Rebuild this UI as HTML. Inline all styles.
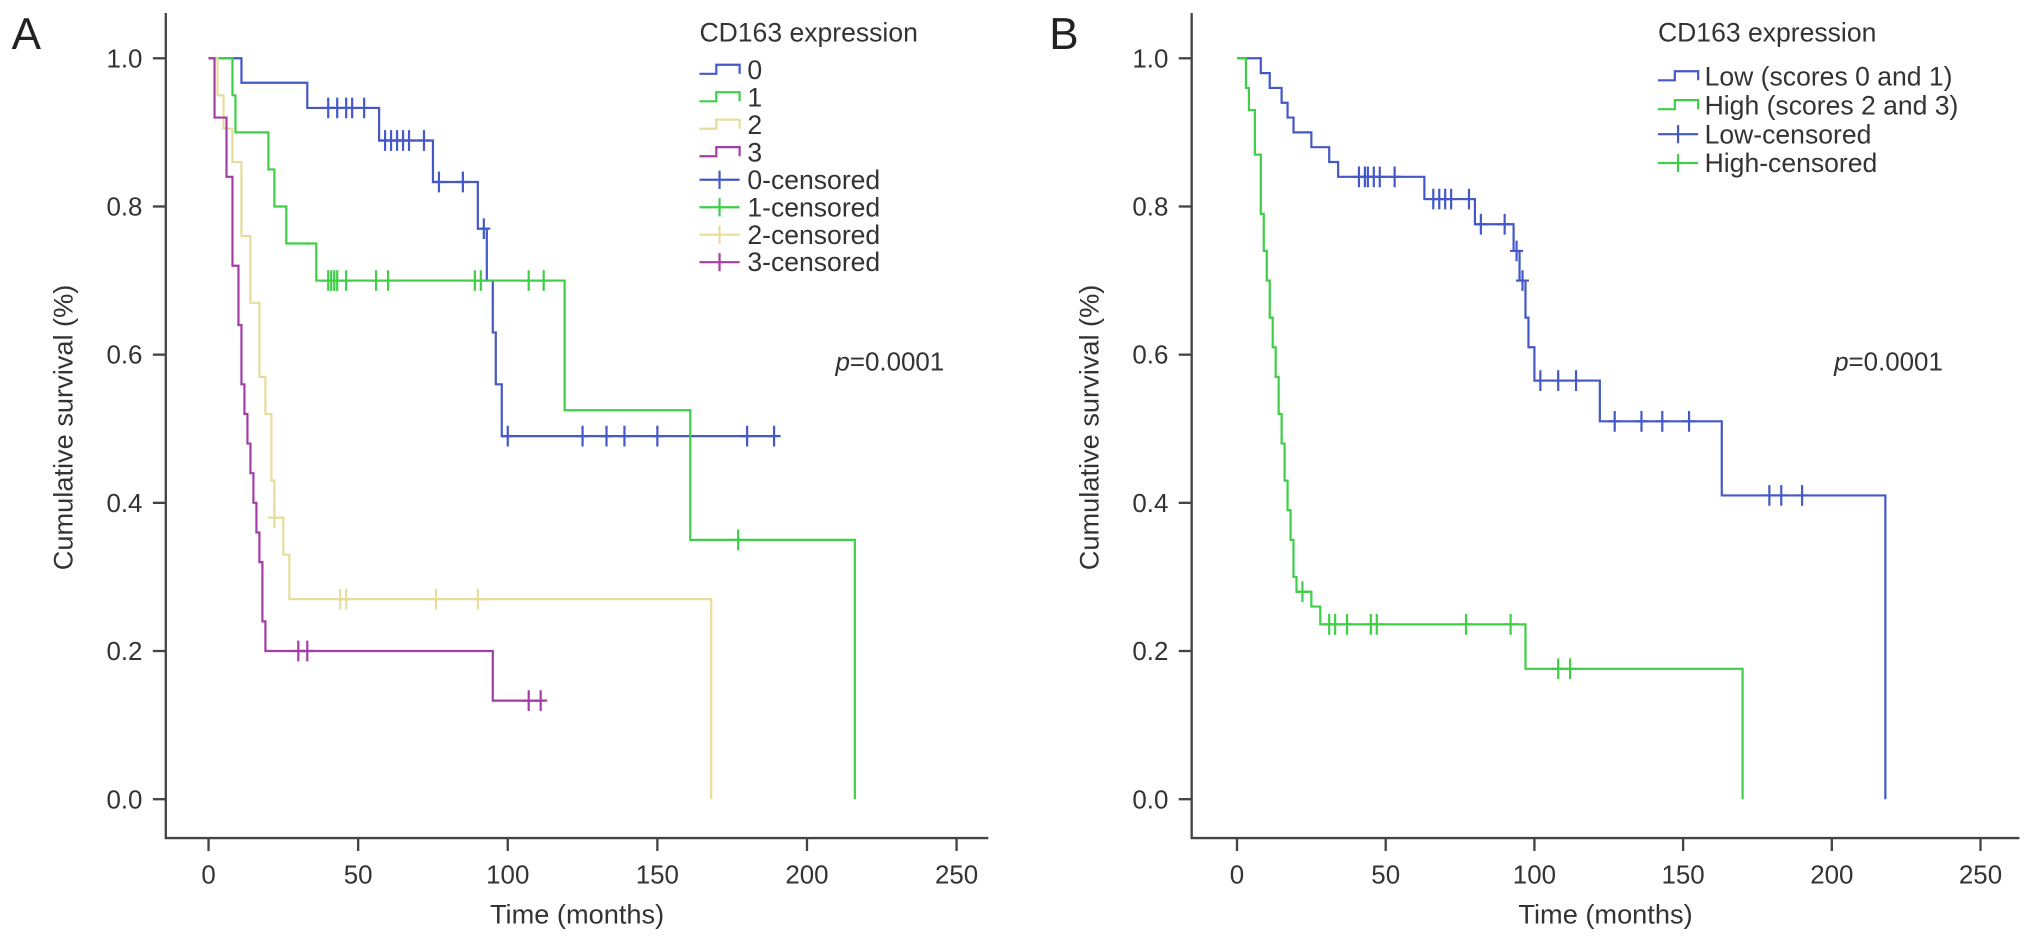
<!DOCTYPE html>
<html><head><meta charset="utf-8"><style>
html,body{margin:0;padding:0;background:#fff;}
svg{display:block;font-family:"Liberation Sans",Arial,sans-serif;}
</style></head><body>
<svg id="chart" width="2032" height="947" viewBox="0 0 2032 947">
<g id="root" transform="scale(1.2953)">
<text x="9" y="38" font-size="34" fill="#222">A</text>
<text x="810" y="38" font-size="34" fill="#222">B</text>
</g>
</svg>
<script>
// ---- Panel A data ----
const aNames = ["0","1","2","3"];
const aTimes0 = [0,11,33,57,75,90,93,95,96,98,189];
const aSurv0  = [1.0,0.967,0.933,0.889,0.833,0.77,0.70,0.63,0.56,0.49,0.49];
const aCens0T = [40,43,46,48,52,59,61,63,65,67,72,77,85,92,100,125,133,139,150,180,189];
const aTimes1 = [0,8,9,20,22,26,36,119,161,216,216];
const aSurv1  = [1.0,0.95,0.90,0.85,0.80,0.75,0.70,0.525,0.35,0.35,0.0];
const aCens1T = [40,41,42,43,46,56,60,89,91,107,112,177];
const aTimes2 = [0,3,5,8,11,14,17,19,21,22,25,27,168,168];
const aSurv2  = [1.0,0.95,0.905,0.86,0.76,0.67,0.57,0.52,0.43,0.38,0.33,0.27,0.27,0.0];
const aCens2T = [22,44,46,76,90];
const aTimes3 = [0,2,6,8,10,11,12,13,14,15,16,17,18,19,95,112];
const aSurv3  = [1.0,0.92,0.84,0.72,0.64,0.56,0.52,0.48,0.44,0.40,0.36,0.32,0.24,0.20,0.133,0.133];
const aCens3T = [30,33,107,111];
// ---- Panel B data ----
const bNames = ["Low (scores 0 and 1)","High (scores 2 and 3)"];
const bTimesLow = [0,8,11,15,17,19,25,31,34,63,80,93,95,97,98,100,122,163,218,218];
const bSurvLow  = [1.0,0.98,0.96,0.94,0.92,0.90,0.88,0.86,0.84,0.81,0.776,0.74,0.70,0.65,0.61,0.565,0.51,0.41,0.41,0.0];
const bCensLowT = [41,43,44,46,48,53,66,68,70,72,78,82,90,94,96,102,108,114,127,136,143,152,179,183,190];
const bTimesHigh = [0,3,4,6,8,9,10,11,12,13,14,15,16,17,18,19,20,25,28,97,170,170];
const bSurvHigh  = [1.0,0.96,0.93,0.87,0.79,0.74,0.70,0.65,0.61,0.57,0.52,0.48,0.43,0.39,0.35,0.30,0.28,0.26,0.236,0.176,0.176,0.0];
const bCensHighT = [22,31,33,37,45,47,77,92,108,112];
const xTicks = [0,50,100,150,200,250];
const yTicks = [0.0,0.2,0.4,0.6,0.8,1.0];

const NS="http://www.w3.org/2000/svg";
const root=document.getElementById('root');
function mk(tag,attrs,parent){const e=document.createElementNS(NS,tag);for(const k in attrs)e.setAttribute(k,attrs[k]);(parent||root).appendChild(e);return e;}
function survAt(T,S,t){let v=S[0];for(let i=0;i<T.length;i++){if(T[i]<=t)v=S[i];}return v;}

function panel(cfg){
  const g=mk('g',{});
  
  
  const xs=t=>cfg.x0+t*cfg.kx;
  const ys=v=>617-v*572;
  const ax=mk('path',{d:`M${cfg.axX},10 V647 H${cfg.axEnd}`,stroke:'#444','stroke-width':1.8,fill:'none'},g);
  
  
  yTicks.forEach(v=>{
    mk('line',{x1:cfg.axX-10,x2:cfg.axX,y1:ys(v),y2:ys(v),stroke:'#444','stroke-width':1.8},g);
    const t=mk('text',{x:cfg.axX-18,y:ys(v)+7,'font-size':20,'text-anchor':'end',fill:'#333'},g);
    t.textContent=v.toFixed(1);
    
    
  });
  xTicks.forEach(v=>{
    mk('line',{x1:xs(v),x2:xs(v),y1:647,y2:657,stroke:'#444','stroke-width':1.8},g);
    const t=mk('text',{x:xs(v),y:682,'font-size':20,'text-anchor':'middle',fill:'#333'},g);
    t.textContent=v;
    
    
  });
  const xt=mk('text',{x:(cfg.axX+cfg.axEnd)/2,y:713,'font-size':21,'text-anchor':'middle',fill:'#333'},g);
  xt.textContent='Time (months)';
  
  
  const yt=mk('text',{x:0,y:0,'font-size':21,'text-anchor':'middle',fill:'#333',transform:`translate(${cfg.axX-72},330) rotate(-90)`},g);
  yt.textContent='Cumulative survival (%)';
  
  
  const pv=mk('text',{x:cfg.pX,y:286,'font-size':20,fill:'#333'},g);
  pv.innerHTML='<tspan font-style="italic">p</tspan>=0.0001';
  
  
  cfg.series.forEach(s=>{
    let d=`M${xs(s.T[0])},${ys(s.S[0])}`;
    for(let i=1;i<s.T.length;i++){d+=` H${xs(s.T[i])} V${ys(s.S[i])}`;}
    const p=mk('path',{d:d,stroke:s.c,'stroke-width':1.7,fill:'none'},g);
    
    
    s.C.forEach(t=>{
      const x=xs(t),y=ys(survAt(s.T,s.S,t));
      const c=mk('path',{d:`M${x},${y-8} V${y+8} M${x-5},${y} H${x+5}`,stroke:s.c,'stroke-width':1.7},g);
      
      
    });
  });
  // legend
  const lt=mk('text',{x:cfg.lgX,y:32,'font-size':20.5,fill:'#333'},g);
  lt.textContent='CD163 expression';
  
  
  const entries=[];
  cfg.series.forEach(s=>entries.push({lab:s.label,c:s.c,kind:'line'}));
  cfg.series.forEach(s=>entries.push({lab:s.clabel,c:s.c,kind:'cens'}));
  entries.forEach((e,i)=>{
    const y=cfg.lgY0+i*cfg.lgDy;
    const sx=cfg.lgX;
    const sym=e.kind==='line'
      ? mk('path',{d:`M${sx},${y+3} H${sx+13} V${y-4} H${sx+31} V${y+3}`,stroke:e.c,'stroke-width':1.7,fill:'none'},g)
      : mk('path',{d:`M${sx},${y} H${sx+31} M${sx+15.5},${y-7} V${y+7}`,stroke:e.c,'stroke-width':1.7,fill:'none'},g);
    
    
    const t=mk('text',{x:cfg.lgTX,y:y+7,'font-size':20.5,fill:'#333'},g);
    t.textContent=e.lab;
    
    
  });
}
const blue='#4458c8',green='#3ecf47',yellow='#e6dd9c',purple='#a43ea6';
panel({name:'panel-a',x0:161,kx:2.31,axX:128,axEnd:763,pX:645,lgX:540,lgTX:577,lgY0:54,lgDy:21.2,series:[
  {id:'0',T:aTimes0,S:aSurv0,C:aCens0T,c:blue,label:aNames[0],clabel:aNames[0]+'-censored'},
  {id:'1',T:aTimes1,S:aSurv1,C:aCens1T,c:green,label:aNames[1],clabel:aNames[1]+'-censored'},
  {id:'2',T:aTimes2,S:aSurv2,C:aCens2T,c:yellow,label:aNames[2],clabel:aNames[2]+'-censored'},
  {id:'3',T:aTimes3,S:aSurv3,C:aCens3T,c:purple,label:aNames[3],clabel:aNames[3]+'-censored'}]});
panel({name:'panel-b',x0:955,kx:2.296,axX:920,axEnd:1559,pX:1416,lgX:1280,lgTX:1316,lgY0:59,lgDy:22.3,series:[
  {id:'low',T:bTimesLow,S:bSurvLow,C:bCensLowT,c:blue,label:bNames[0],clabel:'Low-censored'},
  {id:'high',T:bTimesHigh,S:bSurvHigh,C:bCensHighT,c:green,label:bNames[1],clabel:'High-censored'}]});
</script>
</body></html>
